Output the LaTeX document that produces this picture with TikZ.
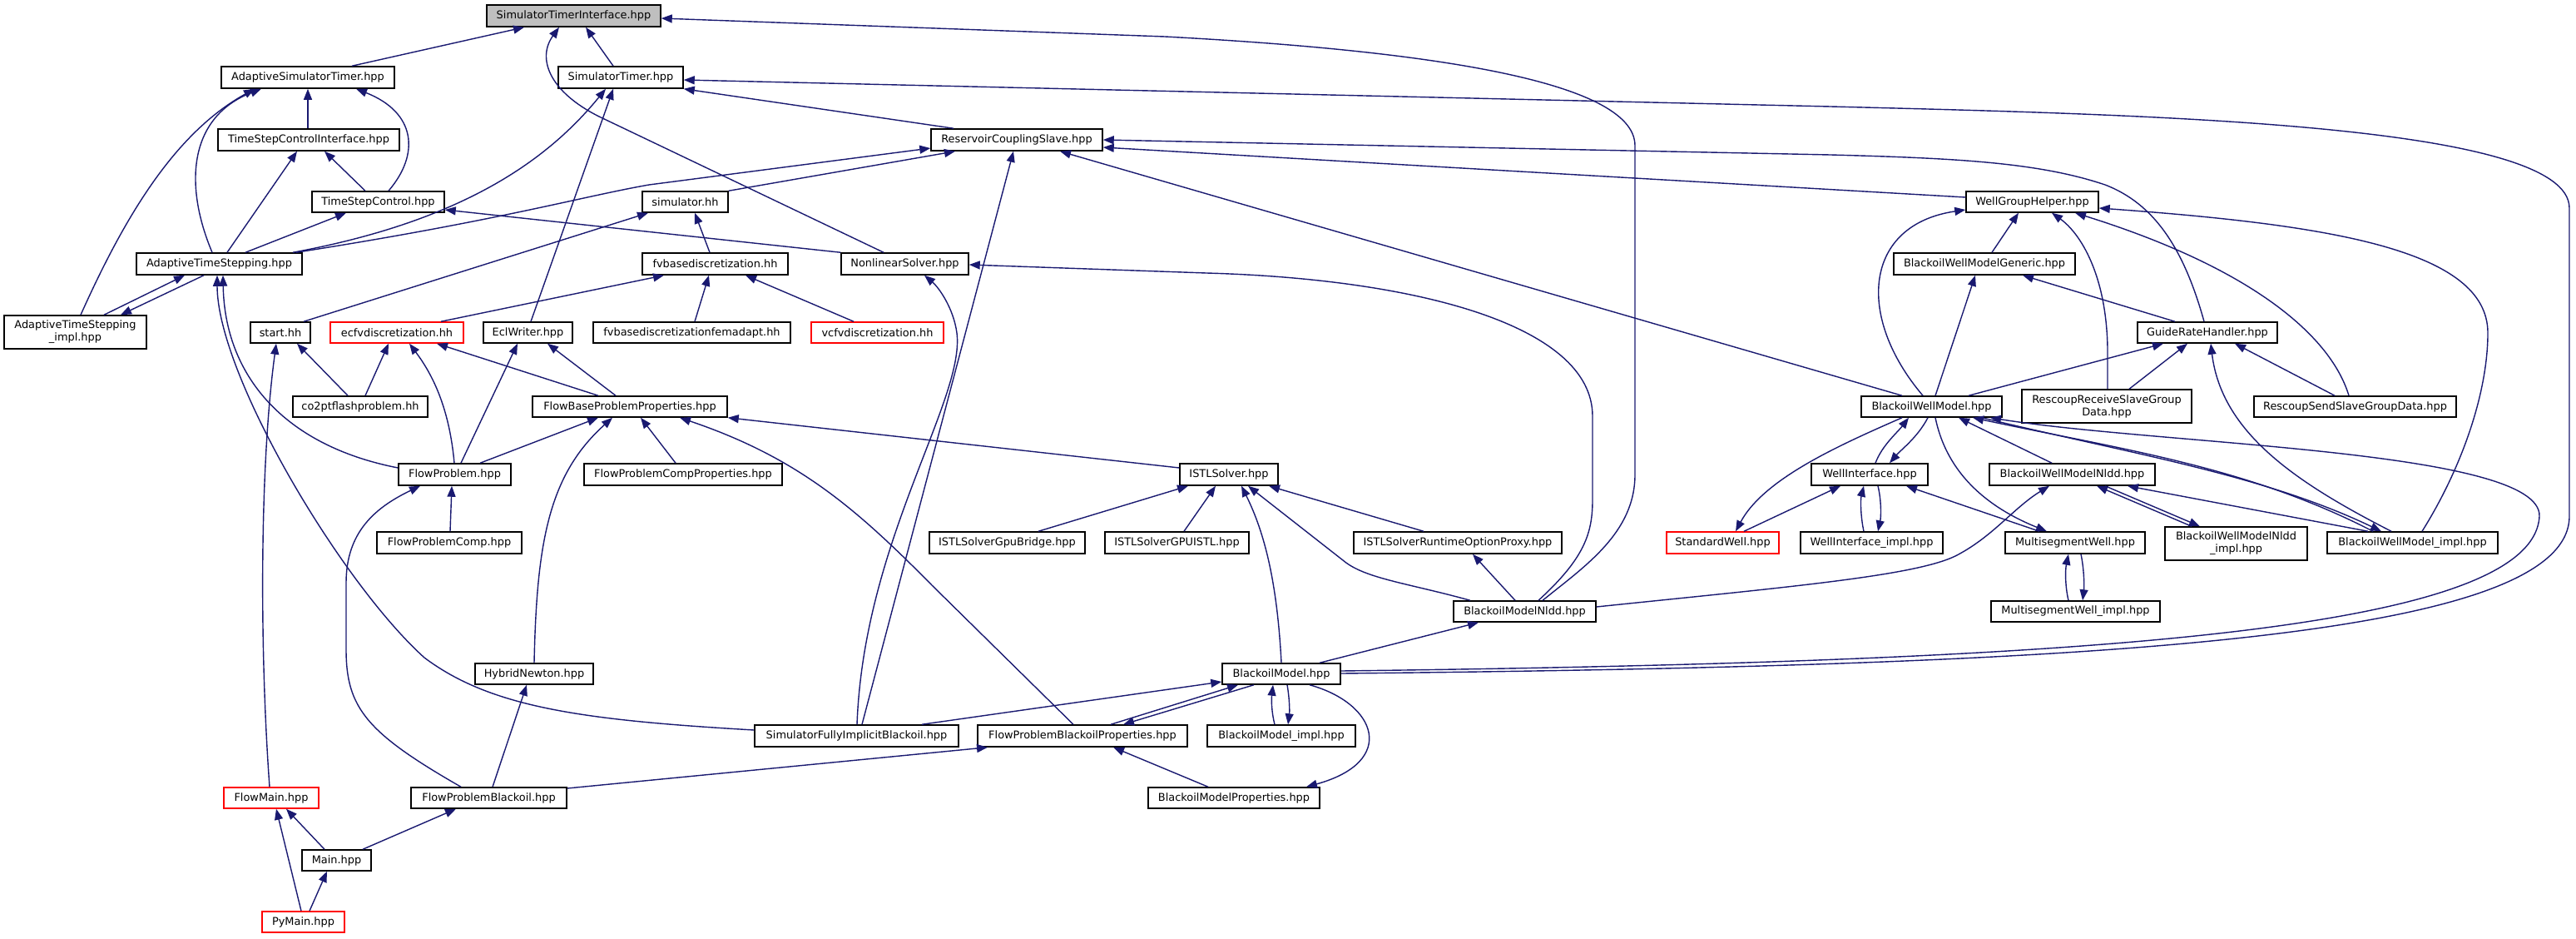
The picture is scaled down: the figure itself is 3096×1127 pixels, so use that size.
\documentclass[tikz,border=0pt]{standalone}
\usepackage{fontspec}
\newfontfamily\dv{DejaVu Sans}
\usetikzlibrary{arrows.meta}
\definecolor{navy}{HTML}{191970}
\definecolor{rd}{HTML}{FF0000}
\definecolor{grayfill}{HTML}{BFBFBF}
\newcommand\mynode[7][]{\node[box,#1,minimum width={#4-#3},minimum height={#6-#5}] (#2) at ({(#3+#4)/2},{(#5+#6)/2}) {#7};}
\tikzset{
  box/.style={draw=black, line width=1.5pt, fill=white, inner sep=0pt, text=black, align=center, font={\dv\fontsize{12.9pt}{15pt}\selectfont}},
  redb/.style={draw=rd},
  e/.style={draw=navy, line width=1.4pt, -{Triangle[length=13pt,width=10pt]}}
}
\begin{document}
\begin{tikzpicture}[x=1pt,y=-1pt]
\useasboundingbox (0,0) rectangle (3096,1127);
% nodes
\mynode[fill=grayfill]{STI}{585}{794}{6}{32}{SimulatorTimerInterface.hpp}
\mynode{AST}{266}{474}{80}{106}{AdaptiveSimulatorTimer.hpp}
\mynode{ST}{671}{821}{80}{106}{SimulatorTimer.hpp}
\mynode{TSCI}{262}{480}{155}{181}{TimeStepControlInterface.hpp}
\mynode{RCS}{1119}{1325}{155}{181}{ReservoirCouplingSlave.hpp}
\mynode{TSC}{375}{534}{230}{255}{TimeStepControl.hpp}
\mynode{SIM}{772}{875}{230}{255}{simulator.hh}
\mynode{WGH}{2363}{2522}{230}{255}{WellGroupHelper.hpp}
\mynode{ATS}{164}{363}{304}{330}{AdaptiveTimeStepping.hpp}
\mynode{FVB}{772}{947}{304}{330}{fvbasediscretization.hh}
\mynode{NLS}{1011}{1164}{304}{330}{NonlinearSolver.hpp}
\mynode{BWMG}{2276}{2494}{304}{330}{BlackoilWellModelGeneric.hpp}
\mynode{ATSI}{5}{176}{379}{419}{AdaptiveTimeStepping\\\_impl.hpp}
\mynode{START}{301}{373}{387}{412}{start.hh}
\mynode[redb]{ECFV}{397}{557}{387}{412}{ecfvdiscretization.hh}
\mynode{ECL}{581}{688}{387}{412}{EclWriter.hpp}
\mynode{FEM}{713}{950}{387}{412}{fvbasediscretizationfemadapt.hh}
\mynode[redb]{VCFV}{975}{1134}{387}{412}{vcfvdiscretization.hh}
\mynode{GRH}{2569}{2737}{387}{412}{GuideRateHandler.hpp}
\mynode{CO2}{352}{514}{476}{501}{co2ptflashproblem.hh}
\mynode{FBPP}{640}{874}{476}{501}{FlowBaseProblemProperties.hpp}
\mynode{BWM}{2237}{2406}{476}{501}{BlackoilWellModel.hpp}
\mynode{RRSG}{2430}{2634}{468}{508}{RescoupReceiveSlaveGroup\\Data.hpp}
\mynode{RSSG}{2709}{2952}{476}{501}{RescoupSendSlaveGroupData.hpp}
\mynode{FP}{479}{614}{557}{583}{FlowProblem.hpp}
\mynode{FPCP}{702}{940}{557}{583}{FlowProblemCompProperties.hpp}
\mynode{ISTL}{1418}{1536}{557}{583}{ISTLSolver.hpp}
\mynode{WI}{2177}{2317}{557}{583}{WellInterface.hpp}
\mynode{BWMN}{2391}{2590}{557}{583}{BlackoilWellModelNldd.hpp}
\mynode{FPC}{453}{627}{639}{665}{FlowProblemComp.hpp}
\mynode{GPUB}{1117}{1304}{639}{665}{ISTLSolverGpuBridge.hpp}
\mynode{GPUI}{1328}{1501}{639}{665}{ISTLSolverGPUISTL.hpp}
\mynode{RTOP}{1627}{1877}{639}{665}{ISTLSolverRuntimeOptionProxy.hpp}
\mynode[redb]{SW}{2003}{2138}{639}{665}{StandardWell.hpp}
\mynode{WII}{2164}{2335}{639}{665}{WellInterface\_impl.hpp}
\mynode{MSW}{2410}{2578}{639}{665}{MultisegmentWell.hpp}
\mynode{BWMNI}{2602}{2773}{633}{673}{BlackoilWellModelNldd\\\_impl.hpp}
\mynode{BWMI}{2797}{3002}{639}{665}{BlackoilWellModel\_impl.hpp}
\mynode{BMN}{1747}{1918}{722}{747}{BlackoilModelNldd.hpp}
\mynode{MSWI}{2393}{2596}{722}{747}{MultisegmentWell\_impl.hpp}
\mynode{HN}{571}{713}{797}{822}{HybridNewton.hpp}
\mynode{BM}{1469}{1611}{797}{822}{BlackoilModel.hpp}
\mynode{SFIB}{907}{1152}{871}{897}{SimulatorFullyImplicitBlackoil.hpp}
\mynode{FPBP}{1175}{1427}{871}{897}{FlowProblemBlackoilProperties.hpp}
\mynode{BMI}{1451}{1629}{871}{897}{BlackoilModel\_impl.hpp}
\mynode[redb]{FMAIN}{269}{383}{946}{971}{FlowMain.hpp}
\mynode{FPB}{494}{681}{946}{971}{FlowProblemBlackoil.hpp}
\mynode{BMP}{1380}{1586}{946}{971}{BlackoilModelProperties.hpp}
\mynode{MAIN}{363}{446}{1021}{1046}{Main.hpp}
\mynode[redb]{PY}{315}{414}{1095}{1120}{PyMain.hpp}
% edges into STI
\draw[e] (423,0 |- AST.north) -- (630,0 |- STI.south);
\draw[e] (737,0 |- ST.north) -- (704,0 |- STI.south);
\draw[e] (1062,0 |- NLS.north) -- (720,140) .. controls (660,110) and (645,70) .. (672,0 |- STI.south);
\draw[e] (1854,0 |- BMN.north) .. controls (1905,680) and (1965,640) .. (1965,570) -- (1965,175) .. controls (1965,95) and (1700,60) .. (1400,44) -- (STI.east |- 0,22);
% edges into ST
\draw[e] (BM.east |- 0,809) .. controls (2500,800) and (3088,770) .. (3088,620) -- (3088,250) .. controls (3088,150) and (2600,138) .. (2200,128) -- (ST.east |- 0,96);
\draw[e] (638,0 |- ECL.north) -- (737,0 |- ST.south);
\draw[e] (352,0 |- ATS.north) .. controls (560,265) and (660,190) .. (728,0 |- ST.south);
\draw[e] (1146,0 |- RCS.north) -- (ST.south east);
% edges into AST
\draw[e] (97,0 |- ATSI.north) .. controls (150,260) and (210,160) .. (306,0 |- AST.south);
\draw[e] (255,0 |- ATS.north) .. controls (220,220) and (228,140) .. (314,0 |- AST.south);
\draw[e] (370,0 |- TSCI.north) -- (370,0 |- AST.south);
\draw[e] (467,0 |- TSC.north) .. controls (505,185) and (500,135) .. (428,0 |- AST.south);
% TSCI, TSC
\draw[e] (273,0 |- ATS.north) -- (357,0 |- TSCI.south);
\draw[e] (439,0 |- TSC.north) -- (390,0 |- TSCI.south);
\draw[e] (295,0 |- ATS.north) -- (416,0 |- TSC.south);
\draw[e] (NLS.north west) -- (TSC.east |- 0,252);
% ATS, ATSI
\draw[e] (125,0 |- ATSI.north) -- (222,0 |- ATS.south);
\draw[e] (245,0 |- ATS.south) -- (145,0 |- ATSI.north);
\draw[e] (FP.west |- 0,562) .. controls (340,535) and (270,450) .. (268,0 |- ATS.south);
\draw[e] (SFIB.west |- 0,877) .. controls (700,865) and (590,850) .. (510,790) .. controls (410,700) and (261,450) .. (261,0 |- ATS.south);
% RCS
\draw[e] (356,0 |- ATS.north) .. controls (600,265) and (700,236) .. (780,222) -- (RCS.west |- 0,178);
\draw[e] (SIM.north east) -- (1148,0 |- RCS.south);
\draw[e] (1036,0 |- SFIB.north) -- (1218,0 |- RCS.south);
\draw[e] (2286,0 |- BWM.north) -- (1274,0 |- RCS.south);
\draw[e] (2649,0 |- GRH.north) .. controls (2625,300) and (2590,245) .. (2530,222) .. controls (2450,195) and (2350,190) .. (2200,186) -- (RCS.east |- 0,168);
\draw[e] (WGH.west |- 0,237) -- (RCS.east |- 0,177);
% SIM, FVB
\draw[e] (365,0 |- START.north) -- (779,0 |- SIM.south);
\draw[e] (853,0 |- FVB.north) -- (835,0 |- SIM.south);
\draw[e] (530,0 |- ECFV.north) -- (798,0 |- FVB.south);
\draw[e] (835,0 |- FEM.north) -- (852,0 |- FVB.south);
\draw[e] (1026,0 |- VCFV.north) -- (896,0 |- FVB.south);
% NLS
\draw[e] (1030,0 |- SFIB.north) .. controls (1038,650) and (1160,480) .. (1150,400) .. controls (1146,370) and (1128,345) .. (1111,0 |- NLS.south);
\draw[e] (1849,0 |- BMN.north) .. controls (1905,670) and (1914,640) .. (1914,600) -- (1914,500) .. controls (1914,390) and (1700,335) .. (1450,328) -- (NLS.east |- 0,318);
% WGH
\draw[e] (2311,0 |- BWM.north) .. controls (2230,380) and (2240,270) .. (WGH.west |- 0,252);
\draw[e] (2394,0 |- BWMG.north) -- (2426,0 |- WGH.south);
\draw[e] (2533,0 |- RRSG.north) -- (2533,420) .. controls (2532,330) and (2500,280) .. (2466,0 |- WGH.south);
\draw[e] (2823,0 |- RSSG.north) .. controls (2800,400) and (2700,320) .. (2494,0 |- WGH.south);
\draw[e] (2911,0 |- BWMI.north) .. controls (2960,560) and (2990,470) .. (2990,400) .. controls (2990,300) and (2800,270) .. (WGH.east |- 0,250);
% BWMG, GRH
\draw[e] (2326,0 |- BWM.north) -- (2374,0 |- BWMG.south);
\draw[e] (2614,0 |- GRH.north) -- (2431,0 |- BWMG.south);
\draw[e] (2366,0 |- BWM.north) -- (2600,0 |- GRH.south);
\draw[e] (2559,0 |- RRSG.north) -- (2629,0 |- GRH.south);
\draw[e] (2874,0 |- BWMI.north) .. controls (2760,580) and (2670,520) .. (2657,0 |- GRH.south);
\draw[e] (2806,0 |- RSSG.north) -- (2686,0 |- GRH.south);
% BWM
\draw[e] (2254,0 |- WI.north) .. controls (2262,535) and (2280,520) .. (2294,0 |- BWM.south);
\draw[e] (2317,0 |- BWM.south) .. controls (2305,525) and (2285,540) .. (2271,0 |- WI.north);
\draw[e] (2466,0 |- BWMN.north) -- (2354,0 |- BWM.south);
\draw[e] (2852,0 |- BWMI.north) .. controls (2700,560) and (2550,540) .. (2371,0 |- BWM.south);
\draw[e] (2382,0 |- BWM.south) .. controls (2560,545) and (2720,570) .. (2862,0 |- BWMI.north);
\draw[e] (BM.east |- 0,806) .. controls (2500,795) and (3045,760) .. (3052,620) .. controls (3054,540) and (2600,535) .. (2392,0 |- BWM.south);
% SW, WI, MSW
\draw[e] (2286,0 |- BWM.south) .. controls (2210,535) and (2120,575) .. (2086,0 |- SW.north);
\draw[e] (2096,0 |- SW.north) -- (2212,0 |- WI.south);
\draw[e] (2326,0 |- BWM.south) .. controls (2340,570) and (2390,610) .. (2460,0 |- MSW.north);
\draw[e] (2451,0 |- MSW.north) -- (2291,0 |- WI.south);
\draw[e] (2240,0 |- WII.north) .. controls (2236,620) and (2236,600) .. (2240,0 |- WI.south);
\draw[e] (2257,0 |- WI.south) .. controls (2261,600) and (2261,620) .. (2257,0 |- WII.north);
% BWMN
\draw[e] (BMN.east |- 0,729) .. controls (2150,705) and (2300,692) .. (2350,668) .. controls (2395,645) and (2420,610) .. (2463,0 |- BWMN.south);
\draw[e] (2634,0 |- BWMNI.north) -- (2520,0 |- BWMN.south);
\draw[e] (2530,0 |- BWMN.south) -- (2644,0 |- BWMNI.north);
\draw[e] (2846,0 |- BWMI.north) -- (2557,0 |- BWMN.south);
% MSW pair
\draw[e] (2486,0 |- MSWI.north) .. controls (2482,705) and (2482,685) .. (2486,0 |- MSW.south);
\draw[e] (2501,0 |- MSW.south) .. controls (2505,685) and (2505,705) .. (2503,0 |- MSWI.north);
% ISTL
\draw[e] (1248,0 |- GPUB.north) -- (1428,0 |- ISTL.south);
\draw[e] (1423,0 |- GPUI.north) -- (1461,0 |- ISTL.south);
\draw[e] (1540,0 |- BM.north) .. controls (1535,700) and (1520,640) .. (1492,0 |- ISTL.south);
\draw[e] (1767,0 |- BMN.north) .. controls (1690,700) and (1640,695) .. (1614,673) -- (1500,0 |- ISTL.south);
\draw[e] (1711,0 |- RTOP.north) -- (1525,0 |- ISTL.south);
\draw[e] (1821,0 |- BMN.north) -- (1770,0 |- RTOP.south);
\draw[e] (ISTL.west |- 0,562) -- (FBPP.south east);
% FBPP
\draw[e] (577,0 |- FP.north) -- (719,0 |- FBPP.south);
\draw[e] (642,0 |- HN.north) .. controls (645,650) and (660,570) .. (736,0 |- FBPP.south);
\draw[e] (812,0 |- FPCP.north) -- (770,0 |- FBPP.south);
\draw[e] (1290,0 |- FPBP.north) -- (1120,703) .. controls (1030,612) and (960,550) .. (817,0 |- FBPP.south);
% ECFV, ECL
\draw[e] (719,0 |- FBPP.north) -- (525,0 |- ECFV.south);
\draw[e] (740,0 |- FBPP.north) -- (658,0 |- ECL.south);
\draw[e] (439,0 |- CO2.north) -- (467,0 |- ECFV.south);
\draw[e] (546,0 |- FP.north) .. controls (540,490) and (520,450) .. (492,0 |- ECFV.south);
\draw[e] (554,0 |- FP.north) -- (622,0 |- ECL.south);
% START
\draw[e] (324,0 |- FMAIN.north) .. controls (312,780) and (312,560) .. (332,0 |- START.south);
\draw[e] (418,0 |- CO2.north) -- (357,0 |- START.south);
% FP
\draw[e] (554,0 |- FPB.north) .. controls (440,880) and (416,850) .. (416,780) -- (416,700) .. controls (416,640) and (450,610) .. (505,0 |- FP.south);
\draw[e] (541,0 |- FPC.north) -- (543,0 |- FP.south);
\draw[e] (592,0 |- FPB.north) -- (633,0 |- HN.south);
\draw[e] (FPB.east |- 0,947) -- (1187,0 |- FPBP.south);
% Main
\draw[e] (362,0 |- PY.north) -- (332,0 |- FMAIN.south);
\draw[e] (390,0 |- MAIN.north) -- (344,0 |- FMAIN.south);
\draw[e] (436,0 |- MAIN.north) -- (548,0 |- FPB.south);
\draw[e] (372,0 |- PY.north) -- (393,0 |- MAIN.south);
% BM
\draw[e] (1108,0 |- SFIB.north) -- (BM.west |- 0,819);
\draw[e] (1335,0 |- FPBP.north) -- (1488,0 |- BM.south);
\draw[e] (1507,0 |- BM.south) -- (1350,0 |- FPBP.north);
\draw[e] (1532,0 |- BMI.north) .. controls (1528,855) and (1528,840) .. (1530,0 |- BM.south);
\draw[e] (1547,0 |- BM.south) .. controls (1550,840) and (1550,855) .. (1548,0 |- BMI.north);
\draw[e] (1574,0 |- BM.south) .. controls (1655,845) and (1680,915) .. (1570,0 |- BMP.north);
\draw[e] (1452,0 |- BMP.north) -- (1338,0 |- FPBP.south);
\draw[e] (1586,0 |- BM.north) -- (1777,0 |- BMN.south);
\end{tikzpicture}
\end{document}
